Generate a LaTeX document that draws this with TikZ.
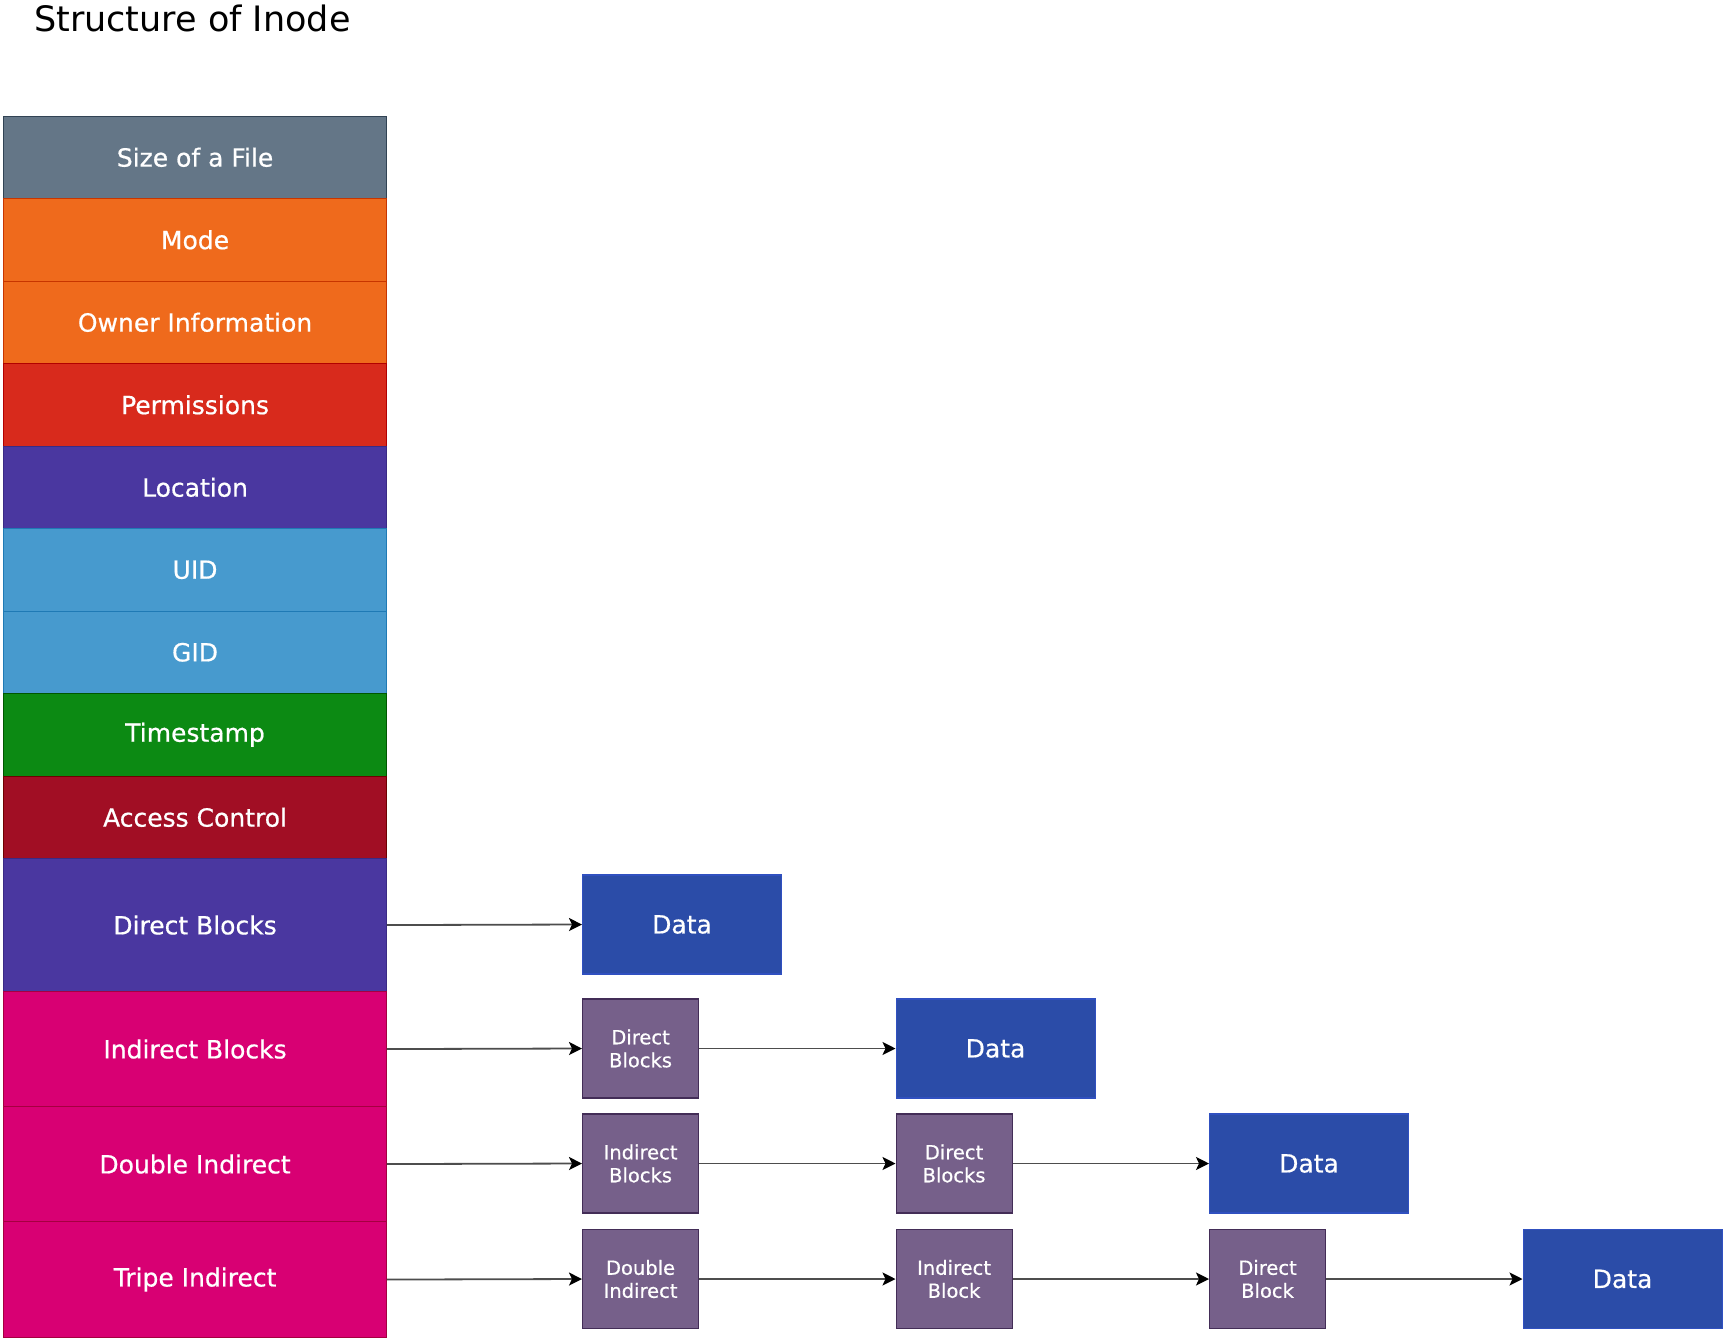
\documentclass[tikz,border=0pt]{standalone}
\usepackage{fontspec}
\setmainfont{DejaVu Sans}
\newfontfamily\lblfont[FakeBold=0.6]{DejaVu Sans}
\usetikzlibrary{arrows.meta}
\definecolor{slateF}{HTML}{647687}\definecolor{slateD}{HTML}{314354}
\definecolor{orangeF}{HTML}{EF6A1C}\definecolor{orangeD}{HTML}{C73500}
\definecolor{redF}{HTML}{D82A1C}\definecolor{redD}{HTML}{B20000}
\definecolor{indigoF}{HTML}{4A37A0}\definecolor{indigoD}{HTML}{3A2A85}
\definecolor{cyanF}{HTML}{479ACE}\definecolor{cyanD}{HTML}{1F7AB5}
\definecolor{greenF}{HTML}{0C8A13}\definecolor{greenD}{HTML}{005700}
\definecolor{crimsonF}{HTML}{A10E24}\definecolor{crimsonD}{HTML}{6F0000}
\definecolor{magentaF}{HTML}{D80073}\definecolor{magentaD}{HTML}{A50040}
\definecolor{dataF}{HTML}{2B4CA8}\definecolor{dataD}{HTML}{3050C0}
\definecolor{blockF}{HTML}{76608A}\definecolor{blockD}{HTML}{432D57}
\definecolor{connC}{HTML}{4D4D4D}
\begin{document}
\begin{tikzpicture}[x=1pt,y=-1pt,
  field/.style n args={3}{rectangle, fill=#1, draw=#2, line width=1.1pt,
    minimum width=382.4pt, minimum height=#3, inner sep=0pt, anchor=north west,
    text=white, font=\lblfont\fontsize{25}{30}\selectfont},
  datab/.style={rectangle, fill=dataF, draw=dataD, line width=1.1pt,
    minimum width=199pt, minimum height=99pt, inner sep=0pt, anchor=west,
    text=white, font=\lblfont\fontsize{25}{30}\selectfont},
  blockb/.style={rectangle, fill=blockF, draw=blockD, line width=1.1pt,
    minimum width=116pt, minimum height=99pt, inner sep=0pt, anchor=west,
    text=white, align=center, font=\lblfont\fontsize{19.5}{23}\selectfont},
  conn/.style={draw=connC, line width=1.8pt,
    -{Stealth[length=13pt,width=13pt,inset=3pt,color=black,fill=black]}},
  titletext/.style={anchor=base west, inner sep=0pt, font=\fontsize{35}{42}\selectfont}
]
\useasboundingbox[fill=white] (0,0) rectangle (1725,1341);

\node[titletext] (title) at (34,31.5) {Structure of Inode};

\node[field={slateF}{slateD}{82.5pt}] (size) at (3.3,115.5) {Size of a File};
\node[field={orangeF}{orangeD}{82.5pt}] (mode) at (3.3,198) {Mode};
\node[field={orangeF}{orangeD}{82.5pt}] (owner) at (3.3,280.5) {Owner Information};
\node[field={redF}{redD}{82.5pt}] (perm) at (3.3,363) {Permissions};
\node[field={indigoF}{indigoD}{82.5pt}] (loc) at (3.3,445.5) {Location};
\node[field={cyanF}{cyanD}{82.5pt}] (uid) at (3.3,528) {UID};
\node[field={cyanF}{cyanD}{82.5pt}] (gid) at (3.3,610.5) {GID};
\node[field={greenF}{greenD}{82.5pt}] (ts) at (3.3,693) {Timestamp};
\node[field={crimsonF}{crimsonD}{82.5pt}] (acc) at (3.3,775.5) {Access Control};
\node[field={indigoF}{indigoD}{133pt}] (dir) at (3.3,858) {Direct Blocks};
\node[field={magentaF}{magentaD}{115pt}] (ind) at (3.3,991) {Indirect Blocks};
\node[field={magentaF}{magentaD}{115pt}] (dbl) at (3.3,1106) {Double Indirect};
\node[field={magentaF}{magentaD}{116pt}] (tri) at (3.3,1221) {Tripe Indirect};

% row 1
\node[datab] (d1) at (582,924.5) {Data};
% row 2
\node[blockb] (b21) at (582,1048.5) {Direct\\Blocks};
\node[datab] (d2) at (895.5,1048.5) {Data};
% row 3
\node[blockb] (b31) at (582,1163.5) {Indirect\\Blocks};
\node[blockb] (b32) at (895.5,1163.5) {Direct\\Blocks};
\node[datab] (d3) at (1209,1163.5) {Data};
% row 4
\node[blockb] (b41) at (582,1279) {Double\\Indirect};
\node[blockb] (b42) at (895.5,1279) {Indirect\\Block};
\node[blockb] (b43) at (1209,1279) {Direct\\Block};
\node[datab] (d4) at (1522.5,1279) {Data};

\draw[conn] (dir.east) -- (d1.west);
\draw[conn] (ind.east) -- (b21.west);
\draw[conn] (b21.east) -- (d2.west);
\draw[conn] (dbl.east) -- (b31.west);
\draw[conn] (b31.east) -- (b32.west);
\draw[conn] (b32.east) -- (d3.west);
\draw[conn] (tri.east) -- (b41.west);
\draw[conn] (b41.east) -- (b42.west);
\draw[conn] (b42.east) -- (b43.west);
\draw[conn] (b43.east) -- (d4.west);
\end{tikzpicture}
\end{document}
